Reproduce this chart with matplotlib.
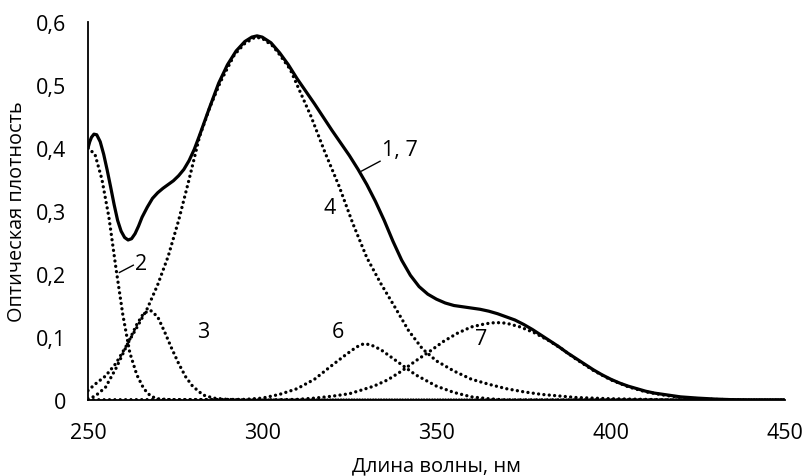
import matplotlib
matplotlib.use("Agg")
import matplotlib.pyplot as plt

# ---- data ----
# curve 1 (sum, solid)
x_sum = [250, 250.5, 251, 251.7, 252.5, 253.5, 254.5, 255.5, 256.5, 257.5, 258.5, 259.5, 260.5,
         261.5, 262.5, 263.5, 264.5, 265.5, 267, 268.5, 270, 271.5, 273, 274.5, 276, 277.5,
         279, 280.5, 282, 283.5, 285, 287.5, 290, 292.5, 295, 297, 298.5, 300, 302.5, 305,
         307.5, 310, 312.5, 315, 320, 325, 327.5, 330, 332.5, 335, 337.5, 340, 342.5, 345,
         347.5, 350, 352.5, 355, 357.5, 360, 362.5, 365, 367.5, 370, 372.5, 375, 377.5, 380,
         382.5, 385, 387.5, 390, 392.5, 395, 397.5, 400, 402.5, 405, 407.5, 410, 412.5, 415,
         417.5, 420, 425, 430, 435, 440, 450]
y_sum = [0.400, 0.410, 0.417, 0.422, 0.421, 0.410, 0.390, 0.365, 0.338, 0.310, 0.285, 0.268,
         0.258, 0.254, 0.256, 0.264, 0.276, 0.290, 0.306, 0.320, 0.329, 0.336, 0.342, 0.348,
         0.356, 0.366, 0.380, 0.398, 0.420, 0.443, 0.466, 0.503, 0.532, 0.554, 0.569, 0.576,
         0.578, 0.576, 0.567, 0.551, 0.532, 0.510, 0.490, 0.470, 0.428, 0.388, 0.366, 0.342,
         0.315, 0.285, 0.252, 0.222, 0.198, 0.180, 0.168, 0.160, 0.154, 0.150, 0.148, 0.146,
         0.144, 0.141, 0.137, 0.132, 0.127, 0.120, 0.112, 0.103, 0.094, 0.085, 0.075, 0.066,
         0.057, 0.048, 0.040, 0.033, 0.027, 0.022, 0.018, 0.014, 0.011, 0.009, 0.007, 0.005,
         0.003, 0.0015, 0.0005, 0.0, 0.0]

# component 2
x_c2 = [250, 252, 254, 256, 258, 260, 262, 264, 266, 268, 270, 275, 300, 350, 400, 450]
y_c2 = [0.400, 0.390, 0.350, 0.290, 0.210, 0.135, 0.075, 0.040, 0.018, 0.006, 0.002, 0.0,
        0.0, 0.0, 0.0, 0.0]

# component 3
x_c3 = [250, 252, 255, 258, 261, 264, 266, 268, 270, 272, 274, 276, 278, 280, 283, 286, 290,
        295, 350, 400, 450]
y_c3 = [0.002, 0.006, 0.020, 0.050, 0.085, 0.120, 0.138, 0.142, 0.132, 0.108, 0.082, 0.058,
        0.037, 0.022, 0.008, 0.003, 0.001, 0.0, 0.0, 0.0, 0.0]

# component 4
x_c4 = [250, 252, 255, 258, 261, 264, 267, 270, 273, 276, 279, 282, 285, 288, 292, 295, 298,
        300, 303, 305, 308, 310, 314, 318, 322, 326, 330, 334, 338, 342, 346, 350, 355, 360,
        365, 370, 375, 380, 390, 400, 410, 420, 450]
y_c4 = [0.015, 0.025, 0.038, 0.058, 0.086, 0.115, 0.145, 0.183, 0.228, 0.285, 0.350, 0.418,
        0.465, 0.505, 0.548, 0.566, 0.576, 0.574, 0.562, 0.548, 0.525, 0.500, 0.450, 0.393,
        0.340, 0.280, 0.226, 0.185, 0.148, 0.110, 0.081, 0.062, 0.046, 0.033, 0.025, 0.018,
        0.013, 0.009, 0.004, 0.002, 0.001, 0.0, 0.0]

# component 6
x_c6 = [250, 295, 300, 305, 310, 315, 320, 324, 327, 329, 331, 334, 338, 341, 344, 347, 350,
        355, 360, 365, 370, 450]
y_c6 = [0.0, 0.001, 0.003, 0.009, 0.018, 0.033, 0.055, 0.072, 0.084, 0.089, 0.088, 0.080,
        0.064, 0.052, 0.040, 0.031, 0.022, 0.012, 0.005, 0.002, 0.0, 0.0]

# component 7
x_c7 = [250, 300, 310, 315, 320, 325, 328, 332, 336, 340, 344, 348, 352, 356, 360, 364, 367,
        370, 374, 378, 382, 386, 390, 395, 400, 405, 410, 415, 420, 425, 430, 440, 450]
y_c7 = [0.0, 0.0, 0.001, 0.003, 0.006, 0.010, 0.015, 0.022, 0.032, 0.046, 0.062, 0.077,
        0.093, 0.106, 0.116, 0.121, 0.123, 0.122, 0.116, 0.107, 0.095, 0.081, 0.065, 0.047,
        0.032, 0.021, 0.013, 0.008, 0.004, 0.002, 0.001, 0.0, 0.0]

x_ticks = [250, 300, 350, 400, 450]
y_ticks = [0, 0.1, 0.2, 0.3, 0.4, 0.5, 0.6]
y_tick_labels = ["0", "0,1", "0,2", "0,3", "0,4", "0,5", "0,6"]
x_label = "Длина волны, нм"
y_label = "Оптическая плотность"

plt.rcParams['font.family'] = ['Open Sans', 'DejaVu Sans']

fig = plt.figure(figsize=(8.03, 4.77), dpi=100)
ax = fig.add_axes([0.1096, 0.1593, 0.8680, 0.7925])

dot = dict(color='black', lw=2.4, linestyle=(0, (0.01, 1.6)), dash_capstyle='round')
for xs, ys in [(x_c2, y_c2), (x_c3, y_c3), (x_c4, y_c4), (x_c6, y_c6), (x_c7, y_c7)]:
    ax.plot(xs, ys, **dot, zorder=3)
ax.plot(x_sum, y_sum, color='black', lw=2.3, solid_joinstyle='round', zorder=4)

ax.set_xlim(250, 450)
ax.set_ylim(0, 0.6)
ax.set_xticks(x_ticks)
ax.set_xticklabels([str(v) for v in x_ticks])
ax.set_yticks(y_ticks)
ax.set_yticklabels(y_tick_labels)
ax.tick_params(length=0, labelsize=15.5)
ax.tick_params(axis='y', pad=16)
ax.tick_params(axis='x', pad=16)
for s in ['top', 'right']:
    ax.spines[s].set_visible(False)
ax.spines['left'].set_linewidth(1.3)
ax.spines['bottom'].set_linewidth(1.3)

ax.set_xlabel(x_label, fontsize=14.5, labelpad=9)
ax.set_ylabel(y_label, fontsize=14.3, labelpad=6)

fs = 15.5
ax.text(339.5, 0.398, "1, 7", fontsize=fs, ha='center', va='center')
ax.plot([328.5, 333.8], [0.3634, 0.379], color='black', lw=1.0)
ax.text(265.2, 0.217, "2", fontsize=fs, ha='center', va='center')
ax.plot([259.0, 263.0], [0.2024, 0.214], color='black', lw=1.0)
ax.text(283.0, 0.109, "3", fontsize=fs, ha='center', va='center')
ax.text(319.2, 0.306, "4", fontsize=fs, ha='center', va='center')
ax.text(321.7, 0.108, "6", fontsize=fs, ha='center', va='center')
ax.text(362.8, 0.097, "7", fontsize=fs, ha='center', va='center')

fig.savefig("out.png", dpi=100)
